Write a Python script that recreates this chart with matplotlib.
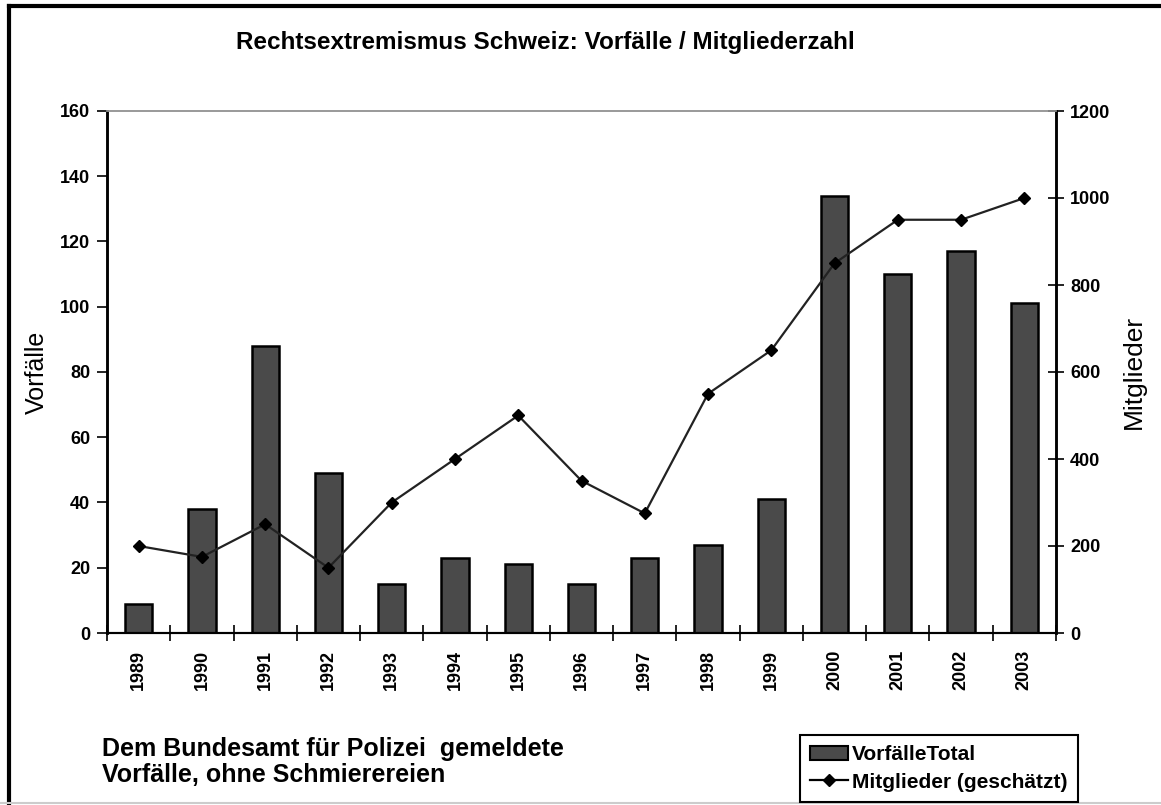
import matplotlib.pyplot as plt
import numpy as np
from matplotlib.lines import Line2D
from matplotlib.patches import Patch

plt.rcParams['font.family'] = ['Liberation Sans', 'DejaVu Sans']

# data
jahre = ['1989', '1990', '1991', '1992', '1993', '1994', '1995', '1996',
         '1997', '1998', '1999', '2000', '2001', '2002', '2003']
vorfaelle = [9, 38, 88, 49, 15, 23, 21, 15, 23, 27, 41, 134, 110, 117, 101]
mitglieder = [200, 175, 250, 150, 300, 400, 500, 350, 275, 550, 650, 850, 950, 950, 1000]

W, H = 1161, 805
fig = plt.figure(figsize=(W / 100, H / 100), dpi=100)

# axes box in pixels: left 107, right 1056, top 111, bottom 633
ax = fig.add_axes([107 / W, 1 - 633 / H, (1056 - 107) / W, (633 - 111) / H])
x = np.arange(len(jahre))

ax.bar(x, vorfaelle, width=0.43, color='#4a4a4a', edgecolor='black',
       linewidth=1.8, zorder=2)
ax.set_xlim(-0.5, len(jahre) - 0.5)
ax.set_ylim(0, 160)
ax.set_yticks(range(0, 161, 20))
ax.set_xticks(x)
ax.set_xticklabels(jahre, rotation=90, fontsize=13, fontweight='bold')
ax.set_xticks(np.arange(-0.5, len(jahre), 1), minor=True)
ax.tick_params(axis='x', which='major', length=0, pad=12)
ax.tick_params(axis='x', which='minor', length=12, direction='inout', width=1.2)
ax.tick_params(axis='y', length=7, direction='out', width=1.2, labelsize=13, pad=5)
for lab in ax.get_yticklabels():
    lab.set_fontweight('bold')
ax.set_ylabel('Vorfälle', fontsize=18, labelpad=8)

ax2 = ax.twinx()
ax2.plot(x, mitglieder, color='#222222', lw=1.6, marker='D', ms=6,
         mfc='black', mec='black', zorder=3)
ax2.set_ylim(0, 1200)
ax2.set_yticks(range(0, 1201, 200))
ax2.tick_params(axis='y', length=12, direction='inout', width=1.2, labelsize=13, pad=4)
for lab in ax2.get_yticklabels():
    lab.set_fontweight('bold')
ax2.set_ylabel('Mitglieder', fontsize=19, labelpad=8)

for a in (ax, ax2):
    a.spines['top'].set_color('#999999')
    a.spines['top'].set_linewidth(1.2)
    a.spines['left'].set_linewidth(1.8)
    a.spines['right'].set_linewidth(1.8)
    a.spines['bottom'].set_linewidth(1.5)

fig.text(545 / W, 1 - 42 / H, 'Rechtsextremismus Schweiz: Vorfälle / Mitgliederzahl',
         ha='center', va='center', fontsize=17.5, fontweight='bold')

fig.text(102 / W, 1 - 762 / H,
         'Dem Bundesamt für Polizei  gemeldete\nVorfälle, ohne Schmierereien',
         ha='left', va='center', fontsize=18, fontweight='bold', linespacing=1.15)

handles = [Patch(facecolor='#4a4a4a', edgecolor='black', linewidth=1.5),
           Line2D([0], [0], color='black', lw=1.6, marker='D', ms=6)]
leg = fig.legend(handles, ['VorfälleTotal', 'Mitglieder (geschätzt)'],
                 loc='upper left', bbox_to_anchor=(800 / W, 1 - 735 / H),
                 fancybox=False, edgecolor='black', framealpha=1,
                 prop={'size': 15, 'weight': 'bold'}, handlelength=1.8,
                 handletextpad=0.2, borderpad=0.5, labelspacing=0.4,
                 borderaxespad=0)
leg.get_frame().set_linewidth(1.5)

# outer frame of the picture
fig.add_artist(Line2D([9 / W, 9 / W], [0, 1 - 6 / H], transform=fig.transFigure,
                      color='black', lw=3))
fig.add_artist(Line2D([9 / W, 1], [1 - 6 / H, 1 - 6 / H], transform=fig.transFigure,
                      color='black', lw=3))
fig.add_artist(Line2D([0, 1], [2 / H, 2 / H], transform=fig.transFigure,
                      color='#cccccc', lw=1.5))

fig.savefig('out.png', dpi=100)
